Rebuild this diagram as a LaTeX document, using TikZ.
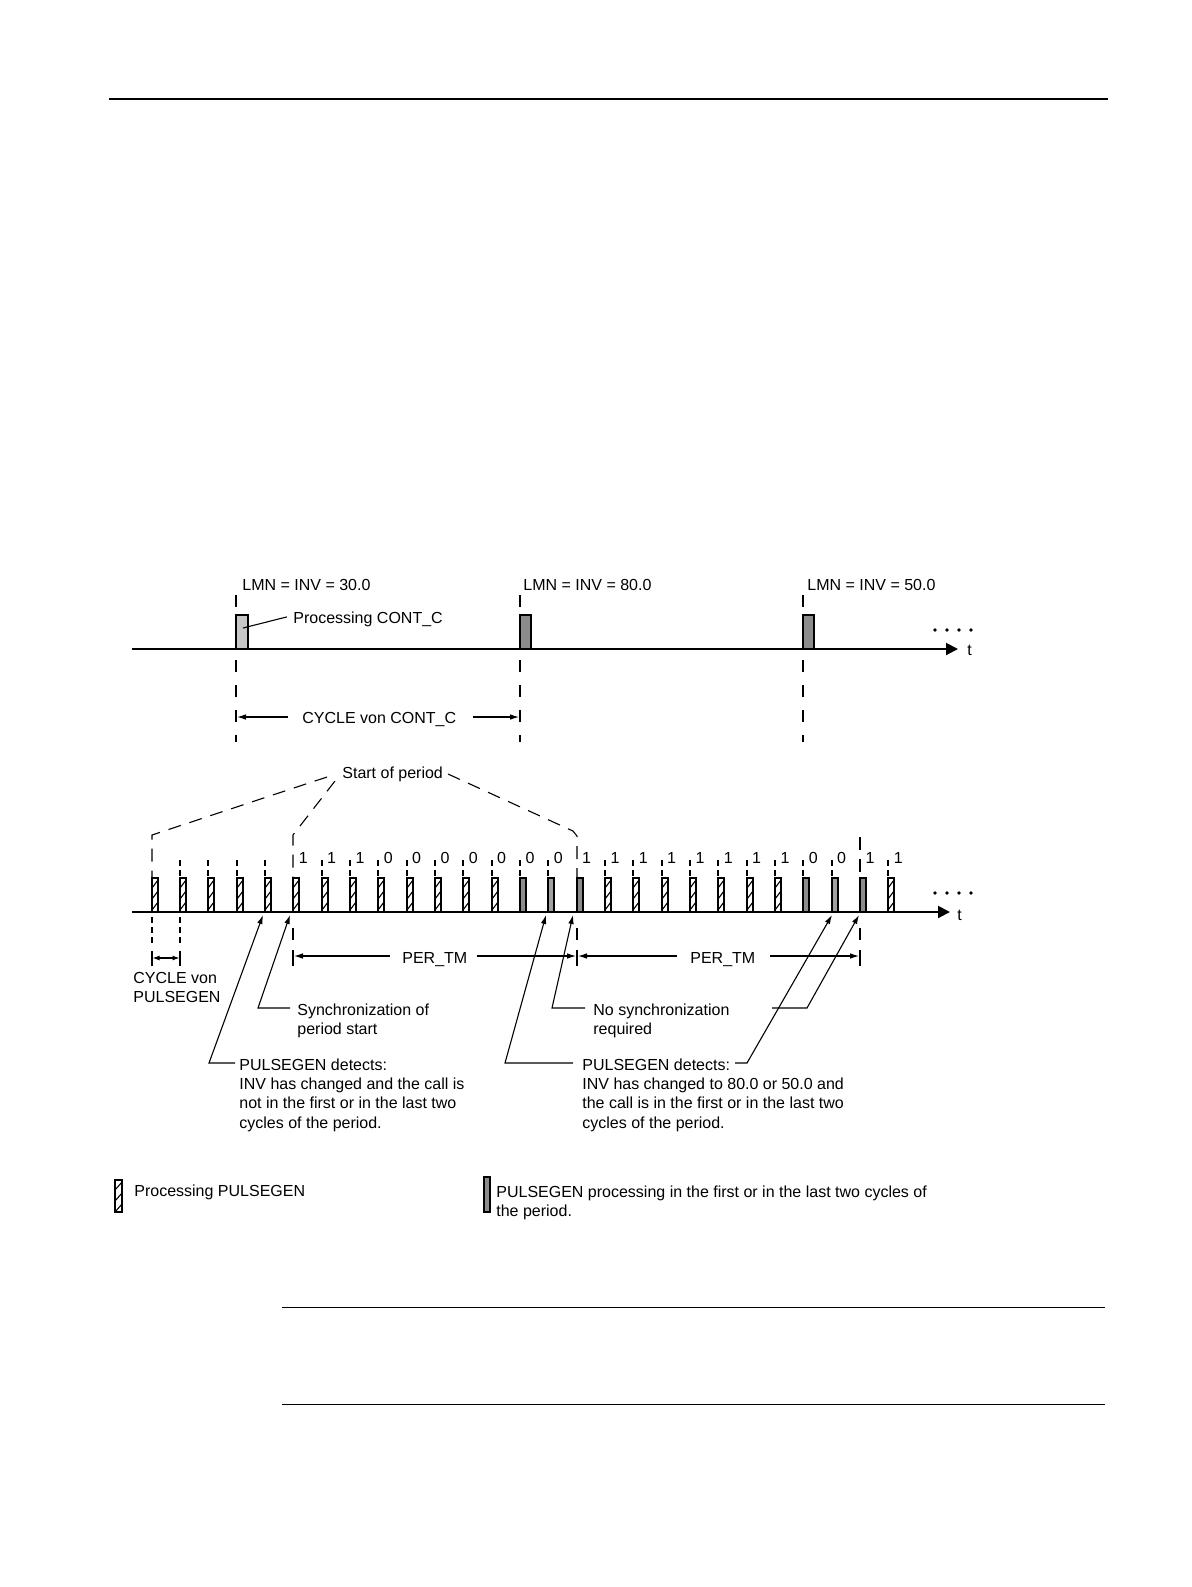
\documentclass[tikz,border=0pt]{standalone}
\usepackage{fontspec}
\setmainfont{Liberation Sans}
\usetikzlibrary{arrows.meta}
\definecolor{lgray}{gray}{0.78}
\definecolor{dgray}{gray}{0.55}
\definecolor{mgray}{gray}{0.63}
\tikzset{
  axisline/.style={line width=1pt, -{Triangle[length=6pt,width=6pt]}},
  pulsebox/.style={line width=0.85pt},
  hatchline/.style={line width=0.55pt},
  leader/.style={line width=0.55pt},
  ldrarrow/.style={leader, -{Latex[length=4.5pt,width=2.8pt]}},
  dashv/.style={line width=0.55pt, dash pattern=on 6pt off 6.5pt},
  tickdash/.style={line width=0.55pt, dash pattern=on 3pt off 2pt},
  sopdash/.style={line width=0.55pt, dash pattern=on 6.5pt off 4.5pt},
  lbl/.style={font=\fontsize{8}{9.6}\selectfont, inner sep=0pt, anchor=base west, align=left},
  lbltop/.style={lbl, anchor=north west},
  numlbl/.style={font=\fontsize{8}{9.6}\selectfont, inner sep=0pt, anchor=base},
}
\newcommand\hatchpulse[1]{%
  \draw[pulsebox] (#1,912) rectangle ++(6,-34);
  \begin{scope}
    \clip (#1,912) rectangle ++(6,-34);
    \foreach \c in {884,895,906} \draw[hatchline] (#1,\c+4) -- ++(6,-8);
  \end{scope}}
\begin{document}
\begin{tikzpicture}[x=0.5pt,y=-0.5pt]
\useasboundingbox (0,0) rectangle (1191,1587);
\fill[white] (0,0) rectangle (1191,1587);

% page rules
\draw[line width=0.6pt] (109,99) -- (1108,99);
\draw[line width=0.5pt] (282,1307) -- (1105,1307);
\draw[line width=0.5pt] (282,1404) -- (1105,1404);

% ---------------- top timeline ----------------
\foreach \x in {236,520,803} {
  \draw[dashv] (\x,595) -- (\x,607);
  \draw[dashv] (\x,660) -- (\x,742);
}
\draw[pulsebox, fill=lgray] (236,649) rectangle (248,615);
\draw[pulsebox, fill=dgray] (520,649) rectangle (531,615);
\draw[pulsebox, fill=dgray] (803,649) rectangle (814,615);
\coordinate (a1s) at (132,649);
\coordinate (a1e) at (958,649);
\draw[axisline] (a1s) -- (a1e);
\node[lbl] (t1) at (967,655) {t};
\foreach \x in {935,947,959,971} \fill (\x,630) circle (1.8);

\node[lbl] (lmn1) at (242,590) {LMN = INV = 30.0};
\node[lbl] (lmn2) at (523,590) {LMN = INV = 80.0};
\node[lbl] (lmn3) at (807,590) {LMN = INV = 50.0};

\node[lbl] (pcl) at (293,623) {Processing CONT\_C};
\coordinate (pcin) at (243,628);
\draw[leader] (pcin) -- ([xshift=-3pt,yshift=1pt]pcl.west);

\node[lbl] (ccl) at (302,723) {CYCLE von CONT\_C};
\coordinate (cc1) at (237,717);
\coordinate (cc2) at (519,717);
\draw[ldrarrow] ([xshift=-7pt]ccl.west |- cc1) -- (cc1);
\draw[ldrarrow] ([xshift=8pt]ccl.east |- cc2) -- (cc2);

% ---------------- lower timeline ----------------
% start of period lines
\node[lbl] (sop) at (342,778) {Start of period};
\coordinate (sA) at (327,777);
\coordinate (sB) at (335,781);
\coordinate (sC) at (448,774);
\draw[sopdash] (sA) -- (152,835) -- (152,878);
\draw[sopdash] (sB) -- (293,835) -- (293,878);
\draw[sopdash] (sC) -- (573,831) -- (577,836) -- (577,878);
\draw[sopdash] (860,837) -- (860,878);

% small ticks above the pulses
\foreach \i in {1,2,3,4,6,7,8,9,10,11,12,13,14,16,17,18,19,20,21,22,23,24,26} {
  \pgfmathsetmacro\px{round(151.7+28.33*\i)}
  \draw[tickdash] (\px,860) -- (\px,878);
}

% hatched pulses
\foreach \i in {0,1,2,3,4,5,6,7,8,9,10,11,12,16,17,18,19,20,21,22,26} {
  \pgfmathsetmacro\px{round(151.7+28.33*\i)}
  \hatchpulse{\px}
}
% gray pulses
\foreach \i/\col in {13/dgray,14/mgray,15/dgray,23/dgray,24/mgray,25/dgray} {
  \pgfmathsetmacro\px{round(151.7+28.33*\i)}
  \draw[pulsebox, fill=\col] (\px,912) rectangle ++(6,-34);
}

% numbers
\foreach \i/\v in {5/1,6/1,7/1,8/0,9/0,10/0,11/0,12/0,13/0,14/0,15/1,16/1,17/1,18/1,19/1,20/1,21/1,22/1,23/0,24/0,25/1,26/1} {
  \pgfmathsetmacro\px{151.7+28.33*\i+10}
  \node[numlbl] at (\px,863) {\v};
}

\coordinate (a2s) at (132,912);
\coordinate (a2e) at (950,912);
\draw[axisline] (a2s) -- (a2e);
\node[lbl] (t2) at (957,920) {t};
\foreach \x in {935,947,959,971} \fill (\x,893) circle (1.8);

% below-axis marks
\foreach \x in {152,180} {
  \draw[tickdash] (\x,917) -- (\x,945);
  \draw[leader] (\x,951) -- (\x,966);
}
\foreach \x in {293,577,860} {
  \draw[dashv] (\x,928) -- (\x,942);
  \draw[leader] (\x,950) -- (\x,966);
}

% CYCLE von PULSEGEN
\coordinate (cp1) at (152.5,958);
\coordinate (cp2) at (179.5,958);
\draw[leader, {Latex[length=3.5pt,width=2.5pt]}-{Latex[length=3.5pt,width=2.5pt]}] (cp1) -- (cp2);
\node[lbltop] (cvp) at (133,971.5) {CYCLE von\\PULSEGEN};

% PER_TM dimensions
\node[lbl] (per1) at (402,963) {PER\_TM};
\node[lbl] (per2) at (690,963) {PER\_TM};
\coordinate (pa) at (294,956);
\coordinate (pb) at (576,956);
\coordinate (pc) at (578,956);
\coordinate (pd) at (859,956);
\draw[ldrarrow] ([xshift=-6pt]per1.west |- pa) -- (pa);
\draw[ldrarrow] ([xshift=4.5pt]per1.east |- pb) -- (pb);
\draw[ldrarrow] ([xshift=-6.5pt]per2.west |- pc) -- (pc);
\draw[ldrarrow] ([xshift=7pt]per2.east |- pd) -- (pd);

% annotation texts
\node[lbltop] (syn) at (297,1003.5) {Synchronization of\\period start};
\node[lbltop] (nos) at (593,1003.5) {No synchronization\\required};
\node[lbltop] (pd1) at (239,1058.5) {PULSEGEN detects:\\INV has changed and the call is\\not in the first or in the last two\\cycles of the period.};
\node[lbltop] (pd2) at (582,1058.5) {PULSEGEN detects:\\INV has changed to 80.0 or 50.0 and\\the call is in the first or in the last two\\cycles of the period.};

% leader arrows
\coordinate (tip1) at (263,915);
\coordinate (tip2) at (290,915);
\coordinate (tip3) at (546,915);
\coordinate (tip4) at (573,915);
\coordinate (tip5) at (832,915);
\coordinate (tip6) at (859,915);
\coordinate (syn0) at (290,1008);
\coordinate (syn1) at (258,1008);
\coordinate (pd10) at (235,1063);
\coordinate (pd11) at (209,1063);
\coordinate (nos0) at (585,1008);
\coordinate (nos1) at (552,1008);
\coordinate (nos2) at (772,1008);
\coordinate (nos3) at (807,1008);
\coordinate (pd20) at (573,1063);
\coordinate (pd21) at (505,1063);
\coordinate (pd22) at (735,1063);
\coordinate (pd23) at (747,1063);
\draw[ldrarrow] (syn0) -- (syn1) -- (tip2);
\draw[ldrarrow] (pd10) -- (pd11) -- (tip1);
\draw[ldrarrow] (nos0) -- (nos1) -- (tip4);
\draw[ldrarrow] (nos2) -- (nos3) -- (tip6);
\draw[ldrarrow] (pd20) -- (pd21) -- (tip3);
\draw[ldrarrow] (pd22) -- (pd23) -- (tip5);

% ---------------- legend ----------------
\draw[pulsebox] (115,1212) rectangle (122,1180);
\begin{scope}
  \clip (115,1212) rectangle (122,1180);
  \foreach \c in {1186,1197,1208} \draw[hatchline] (115,\c+4) -- ++(7,-8);
\end{scope}
\node[lbl] (leg1) at (134,1196) {Processing PULSEGEN};
\draw[pulsebox, fill=dgray] (484,1212) rectangle (490,1177);
\node[lbltop] (leg2) at (496,1185.5) {PULSEGEN processing in the first or in the last two cycles of\\the period.};
\end{tikzpicture}
\end{document}
